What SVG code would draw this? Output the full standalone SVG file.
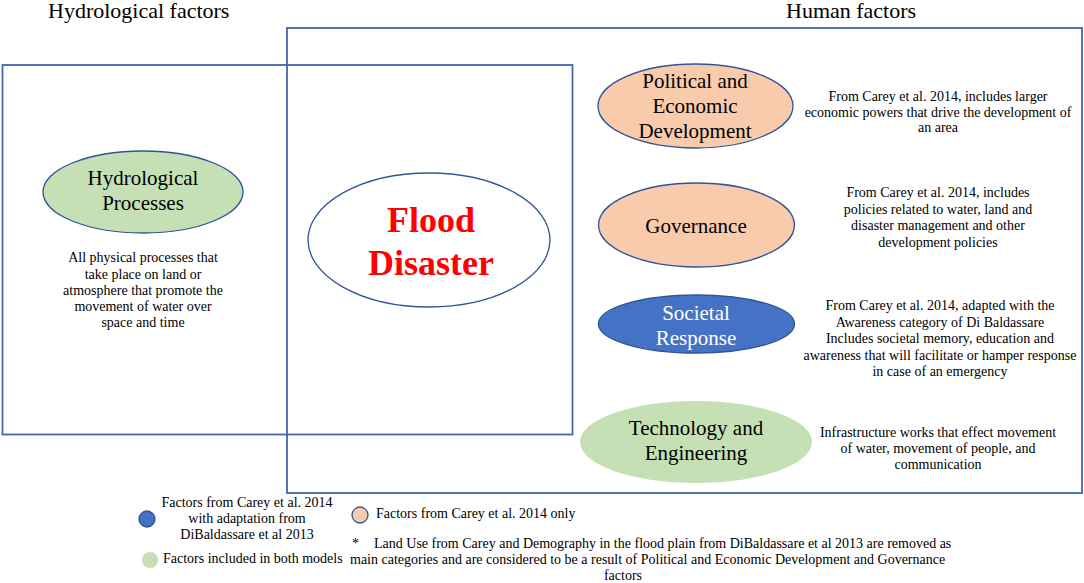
<svg xmlns="http://www.w3.org/2000/svg" width="1084" height="583" viewBox="0 0 1084 583">
<style>
text{font-family:"Liberation Serif","Times New Roman",serif;fill:#000}
.title{font-size:22px}
.lbl{font-size:21px;text-anchor:middle}
.desc{font-size:14px;text-anchor:middle}
.leg{font-size:14px}
.box{fill:none;stroke:#4066AE;stroke-width:1.8}
.ell{stroke:#2F5597;stroke-width:1.3}
.orange{fill:#F8CBAD}
.green{fill:#C5E0B4}
.blue{fill:#4472C4}
</style>
<rect width="1084" height="583" fill="#fff"/>
<text class="title" x="48" y="18">Hydrological factors</text>
<text class="title" x="786" y="18">Human factors</text>
<g id="frames">
<rect class="box" x="2.5" y="65" width="570" height="369.5"/>
<rect class="box" x="287" y="28" width="795" height="465"/>
</g>
<g id="hydro">
<ellipse class="ell green" cx="143" cy="192" rx="100" ry="41"/>
<text class="lbl" x="143" y="185">Hydrological</text>
<text class="lbl" x="143" y="210">Processes</text>
<text class="desc" x="143" y="262">All physical processes that</text>
<text class="desc" x="143" y="278.5">take place on land or</text>
<text class="desc" x="143" y="295">atmosphere that promote the</text>
<text class="desc" x="143" y="311">movement of water over</text>
<text class="desc" x="143" y="327">space and time</text>
</g>
<g id="flood">
<ellipse class="ell" fill="#fff" cx="429" cy="240" rx="121" ry="67"/>
<text x="431" y="232" style="font-size:36px;font-weight:bold;fill:#FF0000;text-anchor:middle">Flood</text>
<text x="431" y="275" style="font-size:36px;font-weight:bold;fill:#FF0000;text-anchor:middle">Disaster</text>
</g>
<g id="political">
<ellipse class="ell orange" cx="695.5" cy="106" rx="97.5" ry="42"/>
<text class="lbl" x="695" y="88">Political and</text>
<text class="lbl" x="695" y="113">Economic</text>
<text class="lbl" x="695" y="138">Development</text>
<text class="desc" x="938" y="101">From Carey et al. 2014, includes larger</text>
<text class="desc" x="938" y="116.5">economic powers that drive the development of</text>
<text class="desc" x="938" y="132">an area</text>
</g>
<g id="governance">
<ellipse class="ell orange" cx="696.5" cy="225" rx="98" ry="42"/>
<text class="lbl" x="696" y="233">Governance</text>
<text class="desc" x="938" y="197">From Carey et al. 2014, includes</text>
<text class="desc" x="938" y="213.5">policies related to water, land and</text>
<text class="desc" x="938" y="230">disaster management and other</text>
<text class="desc" x="938" y="246.5">development policies</text>
</g>
<g id="societal">
<ellipse class="ell blue" cx="696.5" cy="324" rx="98" ry="29"/>
<text class="lbl" x="696" y="320" style="fill:#fff">Societal</text>
<text class="lbl" x="696" y="345" style="fill:#fff">Response</text>
<text class="desc" x="940" y="310">From Carey et al. 2014, adapted with the</text>
<text class="desc" x="940" y="326.5">Awareness category of Di Baldassare</text>
<text class="desc" x="940" y="343">Includes societal memory, education and</text>
<text class="desc" x="940" y="359.5">awareness that will facilitate or hamper response</text>
<text class="desc" x="940" y="376">in case of an emergency</text>
</g>
<g id="technology">
<ellipse class="green" cx="696" cy="442" rx="116" ry="41"/>
<text class="lbl" x="696" y="435">Technology and</text>
<text class="lbl" x="696" y="460">Engineering</text>
<text class="desc" x="938" y="437">Infrastructure works that effect movement</text>
<text class="desc" x="938" y="453">of water, movement of people, and</text>
<text class="desc" x="938" y="469">communication</text>
</g>
<g id="connectors"></g>
<g id="legend">
<circle class="ell blue" cx="147" cy="519" r="8"/>
<text class="leg" x="247" y="507" text-anchor="middle">Factors from Carey et al. 2014</text>
<text class="leg" x="247" y="523" text-anchor="middle">with adaptation from</text>
<text class="leg" x="247" y="539" text-anchor="middle">DiBaldassare et al 2013</text>
<circle class="green" cx="150" cy="560" r="8"/>
<text class="leg" x="163" y="563">Factors included in both models</text>
<circle class="ell orange" cx="360" cy="515" r="8"/>
<text class="leg" x="376" y="518">Factors from Carey et al. 2014 only</text>
<text class="leg" x="352" y="548">*</text>
<text class="leg" x="374" y="548">Land Use from Carey and Demography in the flood plain from DiBaldassare et al 2013 are removed as</text>
<text class="leg" x="350" y="564">main categories and are considered to be a result of Political and Economic Development and Governance</text>
<text class="leg" x="623" y="580" text-anchor="middle">factors</text>
</g>
</svg>
